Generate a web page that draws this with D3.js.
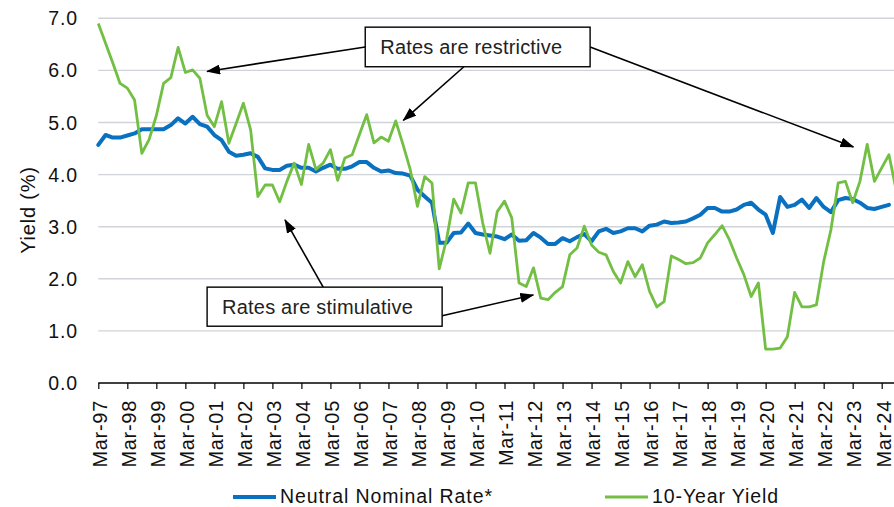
<!DOCTYPE html>
<html>
<head>
<meta charset="utf-8">
<script src="https://cdn.jsdelivr.net/npm/d3@7"></script>
<style>
    body { margin: 0; background: #fff; }
    svg { display: block; font-family: "Liberation Sans", Arial, sans-serif; }
</style>
</head>
<body>
<svg id="chart" width="894" height="507"></svg>
<script>
// quarterly values, starting Mar-97
const neutralRate = [
    4.57, 4.76, 4.71, 4.71, 4.75, 4.79, 4.87, 4.87, 4.87, 4.87,
    4.95, 5.08, 4.98, 5.11, 4.97, 4.92, 4.76, 4.66, 4.44, 4.36,
    4.38, 4.41, 4.34, 4.12, 4.09, 4.09, 4.17, 4.19, 4.13, 4.13,
    4.06, 4.13, 4.19, 4.11, 4.11, 4.16, 4.24, 4.24, 4.13, 4.06,
    4.08, 4.03, 4.02, 3.98, 3.71, 3.58, 3.46, 2.69, 2.69, 2.88,
    2.89, 3.06, 2.88, 2.85, 2.83, 2.81, 2.76, 2.85, 2.73, 2.74,
    2.88, 2.79, 2.67, 2.67, 2.78, 2.72, 2.80, 2.86, 2.72, 2.91,
    2.96, 2.88, 2.91, 2.97, 2.97, 2.91, 3.02, 3.04, 3.10, 3.07,
    3.08, 3.10, 3.16, 3.23, 3.36, 3.36, 3.29, 3.29, 3.33, 3.42,
    3.46, 3.33, 3.23, 2.88, 3.57, 3.38, 3.42, 3.52, 3.36, 3.55,
    3.38, 3.28, 3.51, 3.55, 3.53, 3.46, 3.36, 3.34, 3.38, 3.42
];

const tenYearYield = [
    6.90, 6.52, 6.14, 5.75, 5.66, 5.43, 4.41, 4.67, 5.13, 5.75,
    5.86, 6.44, 5.96, 6.01, 5.85, 5.14, 4.92, 5.40, 4.60, 4.98,
    5.37, 4.86, 3.58, 3.80, 3.80, 3.48, 3.87, 4.22, 3.81, 4.58,
    4.10, 4.22, 4.48, 3.89, 4.32, 4.38, 4.77, 5.15, 4.61, 4.72,
    4.64, 5.03, 4.58, 4.10, 3.39, 3.96, 3.84, 2.19, 2.75, 3.53,
    3.26, 3.84, 3.84, 3.07, 2.49, 3.29, 3.49, 3.17, 1.92, 1.85,
    2.21, 1.63, 1.60, 1.74, 1.85, 2.46, 2.59, 3.01, 2.65, 2.51,
    2.46, 2.14, 1.92, 2.33, 2.04, 2.27, 1.76, 1.46, 1.56, 2.44,
    2.37, 2.29, 2.31, 2.40, 2.69, 2.85, 3.02, 2.75, 2.40, 2.08,
    1.66, 1.92, 0.65, 0.65, 0.67, 0.89, 1.74, 1.46, 1.46, 1.50,
    2.33, 2.94, 3.84, 3.87, 3.46, 3.87, 4.58, 3.87, 4.13, 4.38,
    3.70
];

const tickLabels = [
    "Mar-97", "Mar-98", "Mar-99", "Mar-00", "Mar-01", "Mar-02", "Mar-03",
    "Mar-04", "Mar-05", "Mar-06", "Mar-07", "Mar-08", "Mar-09", "Mar-10",
    "Mar-11", "Mar-12", "Mar-13", "Mar-14", "Mar-15", "Mar-16", "Mar-17",
    "Mar-18", "Mar-19", "Mar-20", "Mar-21", "Mar-22", "Mar-23", "Mar-24"
];

const yTicks = [0, 1, 2, 3, 4, 5, 6, 7];

const seriesNames = ["Neutral Nominal Rate*", "10-Year Yield"];
const seriesColors = ["#0a70c0", "#72bf44"];

// annotation boxes and arrow targets, in (quarter index, yield) terms
const annotations = [
    { text: "Rates are restrictive", box: [36.8, 6.83, 67.8, 6.07],
      arrows: [[[36.8, 6.45], [15.0, 5.98]],
               [[50.4, 6.07], [42.05, 5.04]],
               [[67.8, 6.45], [104.1, 4.53]]] },
    { text: "Rates are stimulative", box: [15.0, 1.84, 47.4, 1.09],
      arrows: [[[31.0, 1.84], [25.74, 3.13]],
               [[47.4, 1.29], [59.97, 1.69]]] }
];

const svg = d3.select("#chart");
const plotLeft = 98.3, plotRight = 894, plotTop = 18.3, plotBottom = 383;

const x = d3.scaleLinear().domain([0, 108]).range([plotLeft, 881.7]);
const y = d3.scaleLinear().domain([0, 7]).range([plotBottom, plotTop]);

// gridlines
svg.append("g")
    .selectAll("line")
    .data(yTicks.filter(d => d > 0))
    .enter()
    .append("line")
    .attr("x1", plotLeft)
    .attr("x2", plotRight)
    .attr("y1", d => y(d))
    .attr("y2", d => y(d))
    .attr("stroke", "#d0d3d8")
    .attr("stroke-width", 1.4);

// y labels
svg.append("g")
    .selectAll("text")
    .data(yTicks)
    .enter()
    .append("text")
    .attr("x", 78)
    .attr("y", d => y(d))
    .attr("dy", "0.36em")
    .attr("text-anchor", "end")
    .attr("font-size", 19.5)
    .attr("letter-spacing", 0.9)
    .attr("fill", "#111")
    .text(d => d.toFixed(1));

svg.append("text")
    .attr("transform", "translate(35,210) rotate(-90)")
    .attr("text-anchor", "middle")
    .attr("font-size", 20)
    .attr("letter-spacing", 0.8)
    .attr("fill", "#111")
    .text("Yield (%)");

// x axis
const xAxis = d3.axisBottom(x)
    .tickValues(tickLabels.map((d, i) => i * 4))
    .tickSize(6)
    .tickFormat((d, i) => tickLabels[i]);

const gx = svg.append("g")
    .attr("transform", "translate(0," + plotBottom + ")")
    .call(xAxis);

gx.select(".domain")
    .attr("d", "M" + plotLeft + ",0H" + plotRight)
    .attr("stroke", "#000")
    .attr("stroke-width", 1.4);

gx.selectAll(".tick line").attr("stroke", "#000").attr("stroke-width", 1.2);

gx.selectAll(".tick text")
    .attr("font-family", "Liberation Sans, Arial, sans-serif")
    .attr("font-size", 20)
    .attr("letter-spacing", 0.7)
    .attr("fill", "#111")
    .attr("text-anchor", "end")
    .attr("transform", "translate(8.3,17) rotate(-90)")
    .attr("x", 0)
    .attr("y", 0)
    .attr("dy", 0);

// series lines
const line = d3.line()
    .x((d, i) => x(i))
    .y(d => y(d));

svg.append("path")
    .datum(neutralRate)
    .attr("d", line)
    .attr("fill", "none")
    .attr("stroke", seriesColors[0])
    .attr("stroke-width", 4)
    .attr("stroke-linejoin", "round")
    .attr("stroke-linecap", "round");

svg.append("path")
    .datum(tenYearYield)
    .attr("d", line)
    .attr("fill", "none")
    .attr("stroke", seriesColors[1])
    .attr("stroke-width", 2.8)
    .attr("stroke-linejoin", "round");

// arrowhead
svg.append("defs")
    .append("marker")
    .attr("id", "arrow")
    .attr("markerUnits", "userSpaceOnUse")
    .attr("viewBox", "0 0 14 10")
    .attr("refX", 13)
    .attr("refY", 5)
    .attr("markerWidth", 14)
    .attr("markerHeight", 10)
    .attr("orient", "auto")
    .append("path")
    .attr("d", "M0,0L14,5L0,10Z")
    .attr("fill", "#000");

// annotations
for (let a of annotations) {
    const g = svg.append("g");
    for (let arr of a.arrows) {
        g.append("line")
            .attr("x1", x(arr[0][0]))
            .attr("y1", y(arr[0][1]))
            .attr("x2", x(arr[1][0]))
            .attr("y2", y(arr[1][1]))
            .attr("stroke", "#000")
            .attr("stroke-width", 1.6)
            .attr("marker-end", "url(#arrow)");
    }
    const bx = x(a.box[0]), by = y(a.box[1]);
    const bw = x(a.box[2]) - bx, bh = y(a.box[3]) - by;
    g.append("rect")
        .attr("x", bx)
        .attr("y", by)
        .attr("width", bw)
        .attr("height", bh)
        .attr("fill", "#fff")
        .attr("stroke", "#000")
        .attr("stroke-width", 1.4);
    g.append("text")
        .attr("x", bx + 15)
        .attr("y", by + bh / 2)
        .attr("dy", "0.36em")
        .attr("font-size", 20)
        .attr("letter-spacing", 0.2)
        .attr("fill", "#222")
        .text(a.text);
}

// legend
const legendX = [233, 605];
const legend = svg.append("g")
    .selectAll("g")
    .data(seriesNames)
    .enter()
    .append("g")
    .attr("transform", (d, i) => "translate(" + legendX[i] + ",497)");

legend.append("line")
    .attr("x1", 0)
    .attr("x2", 43)
    .attr("stroke", (d, i) => seriesColors[i])
    .attr("stroke-width", (d, i) => i == 0 ? 4 : 3);

legend.append("text")
    .attr("x", 47)
    .attr("y", 5.5)
    .attr("font-size", 19.5)
    .attr("letter-spacing", 0.9)
    .attr("fill", "#111")
    .text(d => d);
</script>
</body>
</html>
